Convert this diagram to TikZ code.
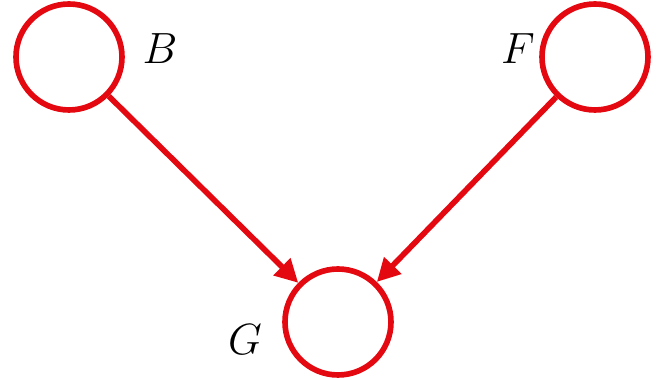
\documentclass[tikz,border=0pt]{standalone}
\usepackage{amsmath}
\usepackage{tikz}
\usepackage{xcolor}
\usetikzlibrary{arrows.meta}

\definecolor{netred}{RGB}{228,8,16}

\begin{document}
\begin{tikzpicture}[
	var/.style={circle, draw=netred, line width=3.2pt, minimum size=2.12cm, inner sep=0pt},
	edge/.style={draw=netred, line width=3.2pt, -{Triangle[length=0.46cm, width=0.46cm]}},
	lbl/.style={font=\fontsize{28}{32}\selectfont}
]
				\useasboundingbox (0,0) rectangle (13.24,7.6);
				
				\node[var] (B) at (1.38,6.46) {};
				\node[var] (F) at (11.9,6.46) {};
				\node[var] (G) at (6.76,1.16) {};
				
				\node[lbl] (labB) at (3.2,6.62) {$B$};
				\node[lbl] (labF) at (10.36,6.62) {$F$};
				\node[lbl] (labG) at (4.9,0.8) {$G$};
				
				\draw[edge] (B) -- (G);
				\draw[edge] (F) -- (G);
			\end{tikzpicture}
\end{document}
